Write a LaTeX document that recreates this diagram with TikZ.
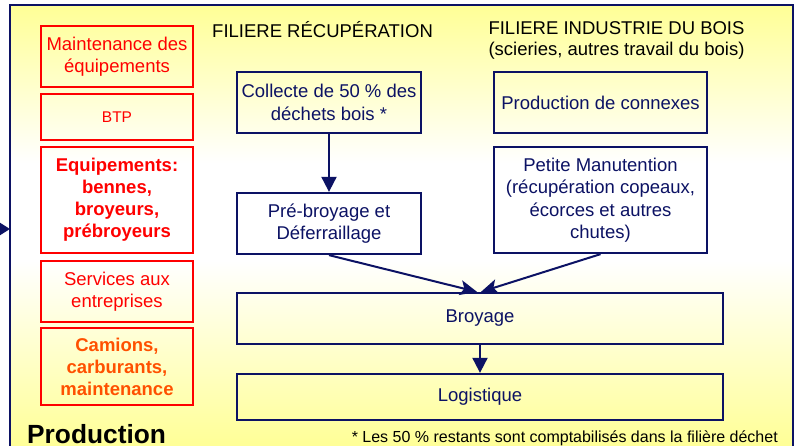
\documentclass[tikz,border=0pt]{standalone}
\usepackage{fontspec}
\setmainfont{Liberation Sans}
\usetikzlibrary{arrows.meta,calc}
\definecolor{navy}{RGB}{12,18,100}
\definecolor{ylw}{RGB}{255,255,150}
\definecolor{redb}{RGB}{255,0,0}
\definecolor{orng}{RGB}{255,80,0}
\pgfdeclareverticalshading{bgshade}{100bp}{color(0bp)=(ylw); color(27.5bp)=(ylw); color(47.5bp)=(white); color(58bp)=(white); color(75bp)=(ylw); color(100bp)=(ylw)}
\begin{document}
\begin{tikzpicture}[x=1pt,y=-1pt,
  navybox/.style={draw=navy, line width=2.3pt, text=navy, align=center, inner sep=0pt,
    font=\fontsize{18.5}{22.5}\selectfont},
  redbox/.style={draw=redb, line width=1.5pt, text=redb, align=center, inner sep=0pt,
    minimum width=152pt, font=\fontsize{18.5}{22.5}\selectfont},
  redbold/.style={redbox, line width=2.6pt, font=\bfseries\fontsize{18.5}{22}\selectfont},
  head/.style={align=center, inner sep=0pt, font=\fontsize{18.5}{21}\selectfont},
  link/.style={draw=navy, line width=2pt, -{Triangle[length=15pt,width=15pt]}},
  diag/.style={draw=navy, line width=2pt, -{Stealth[length=17pt,width=15pt,inset=4pt]}}
]
\useasboundingbox (0,0) rectangle (800,446);
\fill[white] (0,0) rectangle (800,446);
% frame
\shade[shading=bgshade] (10,5) rectangle (793,470);
\draw[navy, line width=2.7pt] (10,5) rectangle (793,470);
\coordinate (ext) at (-30,229);
\coordinate (fl) at (10,229);
\draw[draw=navy, line width=2pt, -{Triangle[length=10pt,width=12pt]}] (ext) -- (fl);

% left column
\node[redbox, minimum height=61pt] (b1) at (117,56.5) {Maintenance des\\équipements};
\node[redbox, minimum height=46pt, font=\fontsize{15.5}{18}\selectfont] (b2) at (117,117) {BTP};
\node[redbold, minimum height=106pt] (b3) at (117,200) {Equipements:\\bennes,\\broyeurs,\\prébroyeurs};
\node[redbox, minimum height=61pt] (b4) at (117,291.5) {Services aux\\entreprises};
\node[redbold, minimum height=77pt, text=orng] (b5) at (117,366.5) {Camions,\\carburants,\\maintenance};

% headers
\node[head, anchor=west] (h1) at (212,30) {FILIERE RÉCUPÉRATION};
\node[head] (h2) at (616.5,40) {FILIERE INDUSTRIE DU BOIS\\(scieries, autres travail du bois)};

% navy boxes
\node[navybox, minimum width=184pt, minimum height=61pt] (collecte) at (329,102.5) {Collecte de 50 \% des\\déchets bois *};
\node[navybox, minimum width=213pt, minimum height=61pt] (connexes) at (600.5,102.5) {Production de connexes};
\node[navybox, minimum width=184pt, minimum height=61pt] (prebroy) at (329,223.5) {Pré-broyage et\\Déferraillage};
\node[navybox, minimum width=213pt, minimum height=106pt] (petite) at (600.5,200) {Petite Manutention\\(récupération copeaux,\\écorces et autres\\chutes)};
\node[navybox, minimum width=486pt, minimum height=51pt] (broyage) at (480,318.5) {Broyage};
\node[navybox, minimum width=486pt, minimum height=46pt] (logist) at (480,397) {Logistique};

% connectors
\draw[link] (collecte.south) -- (prebroy.north);
\draw[diag] (prebroy.south) -- ($(broyage.north)+(-3,0)$);
\draw[diag] (petite.south) -- ($(broyage.north)+(1,0)$);
\draw[link] (broyage.south) -- (logist.north);

% bottom texts
\node[anchor=base west, inner sep=0pt, font=\bfseries\fontsize{26.3}{30}\selectfont] (prod) at (27,443) {Production};
\node[anchor=base east, inner sep=0pt, font=\fontsize{16}{19}\selectfont] (note) at (778,442) {* Les 50 \% restants sont comptabilisés dans la filière déchet};
\end{tikzpicture}
\end{document}
